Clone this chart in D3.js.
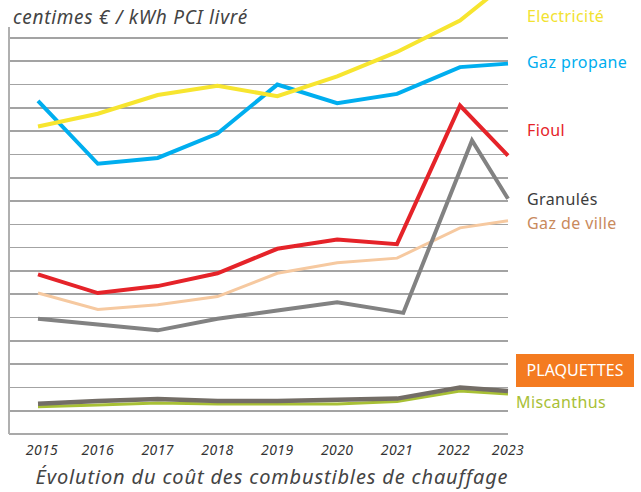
<!DOCTYPE html>
<html>
<head>
    <meta charset='utf-8' />
    <title>Coût des combustibles</title>
    <script src="https://d3js.org/d3.v7.min.js" charset="utf-8"></script>
    <style>
        body {
            margin: 0;
            font-family: "Noto Sans", "DejaVu Sans", sans-serif;
            background: #fff;
        }
        .grid line {
            stroke: #a3a3a3;
            stroke-width: 1.6;
            shape-rendering: crispEdges;
        }
        .serie {
            fill: none;
            stroke-linejoin: miter;
        }
        .year {
            font-size: 14px;
            font-style: italic;
            letter-spacing: 0.4px;
            fill: #333;
        }
        .name {
            font-size: 16px;
            letter-spacing: 0.4px;
        }
    </style>
</head>
<body>
<div id="graphic"></div>
<script>
    var years = [2015, 2016, 2017, 2018, 2019, 2020, 2021, 2022, 2023];

    var electricite = [13.2, 13.75, 14.55, 14.95, 14.5, 15.35, 16.4, 17.75, 19.4];
    var propane     = [14.3, 11.6, 11.85, 12.9, 15.0, 14.2, 14.6, 15.75, 15.9];
    var fioul       = [6.85, 6.05, 6.35, 6.9, 7.95, 8.35, 8.15, 14.1, 11.95];
    var granules    = [4.95, 4.7, 4.45, 4.95, 5.3, 5.65, 5.2, 12.6, 10.1];
    var granulesYears = [2015, 2016, 2017, 2018, 2019, 2020, 2021.1, 2022.25, 2023];
    var gazVille    = [6.05, 5.35, 5.55, 5.9, 6.9, 7.35, 7.55, 8.85, 9.15];
    var plaquettes  = [1.3, 1.42, 1.5, 1.42, 1.42, 1.47, 1.52, 2.0, 1.85];
    var miscanthus  = [1.17, 1.25, 1.33, 1.29, 1.29, 1.29, 1.4, 1.85, 1.72];

    var width = 641, height = 492;

    var svg = d3.select("#graphic").append("svg")
        .attr("width", width)
        .attr("height", height);

    // x: les points 2022/2023 sont plus serrés dans l'original
    var x = d3.scaleLinear()
        .domain([2015, 2021, 2022, 2023])
        .range([38, 397, 460, 508]);

    var y = d3.scaleLinear()
        .domain([0, 17])
        .range([434, 38]);

    // quadrillage
    svg.append("g")
        .attr("class", "grid")
        .selectAll("line")
        .data(y.ticks(17).filter(function (d) { return d > 0; }))
        .enter()
        .append("line")
        .attr("x1", 9)
        .attr("x2", 508)
        .attr("y1", function (d) { return y(d); })
        .attr("y2", function (d) { return y(d); });

    svg.append("line")
        .attr("x1", 9).attr("x2", 508)
        .attr("y1", y(0)).attr("y2", y(0))
        .attr("stroke", "#8c8c8c")
        .attr("stroke-width", 1.6);

    svg.append("line")
        .attr("x1", 9).attr("x2", 9)
        .attr("y1", 27).attr("y2", y(0))
        .attr("stroke", "#b0b0b0")
        .attr("stroke-width", 2);

    // séries
    var series = [
        {name: "Miscanthus", values: miscanthus, xs: years, color: "#a8c035", w: 3},
        {name: "Plaquettes", values: plaquettes, xs: years, color: "#736d66", w: 4.5},
        {name: "Gaz de ville", values: gazVille, xs: years, color: "#f6c9a0", w: 3},
        {name: "Granulés", values: granules, xs: granulesYears, color: "#828282", w: 4},
        {name: "Fioul", values: fioul, xs: years, color: "#e52329", w: 4},
        {name: "Gaz propane", values: propane, xs: years, color: "#00aeef", w: 4},
        {name: "Electricité", values: electricite, xs: years, color: "#f7e52f", w: 4}
    ];

    var line = d3.line()
        .x(function (d) { return x(d[0]); })
        .y(function (d) { return y(d[1]); });

    svg.selectAll(".serie")
        .data(series)
        .enter()
        .append("path")
        .attr("class", "serie")
        .attr("stroke", function (d) { return d.color; })
        .attr("stroke-width", function (d) { return d.w; })
        .attr("d", function (d) {
            return line(d.values.map(function (v, i) { return [d.xs[i], v]; }));
        });

    // années
    svg.selectAll(".year")
        .data(years)
        .enter()
        .append("text")
        .attr("class", "year")
        .attr("x", function (d) { return x(d) + (d === 2015 ? 4 : 0) - (d === 2022 ? 6 : 0); })
        .attr("y", 455)
        .attr("text-anchor", "middle")
        .text(function (d) { return d; });

    // étiquettes à droite
    var labels = [
        {text: "Electricité", color: "#f2e230", y: 22},
        {text: "Gaz propane", color: "#00aeef", y: 68},
        {text: "Fioul", color: "#e52329", y: 136},
        {text: "Granulés", color: "#3c3c3c", y: 205},
        {text: "Gaz de ville", color: "#c98a5c", y: 229}
    ];

    svg.selectAll(".name")
        .data(labels)
        .enter()
        .append("text")
        .attr("class", "name")
        .attr("x", 527)
        .attr("y", function (d) { return d.y; })
        .attr("fill", function (d) { return d.color; })
        .text(function (d) { return d.text; });

    svg.append("rect")
        .attr("x", 516)
        .attr("y", 354)
        .attr("width", 118)
        .attr("height", 33)
        .attr("fill", "#f47b20");

    svg.append("text")
        .attr("class", "name")
        .attr("x", 575)
        .attr("y", 376)
        .attr("text-anchor", "middle")
        .style("letter-spacing", "0px")
        .attr("fill", "#fff")
        .text("PLAQUETTES");

    svg.append("text")
        .attr("class", "name")
        .attr("x", 516)
        .attr("y", 408)
        .attr("fill", "#a8c035")
        .text("Miscanthus");

    // titres
    svg.append("text")
        .attr("x", 13)
        .attr("y", 24)
        .style("font-size", "19px")
        .style("font-style", "italic")
        .style("letter-spacing", "0.7px")
        .attr("fill", "#444")
        .text("centimes € / kWh PCI livré");

    svg.append("text")
        .attr("x", 272)
        .attr("y", 484)
        .attr("text-anchor", "middle")
        .style("font-size", "20px")
        .style("font-style", "italic")
        .style("letter-spacing", "0.85px")
        .attr("fill", "#444")
        .text("Évolution du coût des combustibles de chauffage");
</script>
</body>
</html>
